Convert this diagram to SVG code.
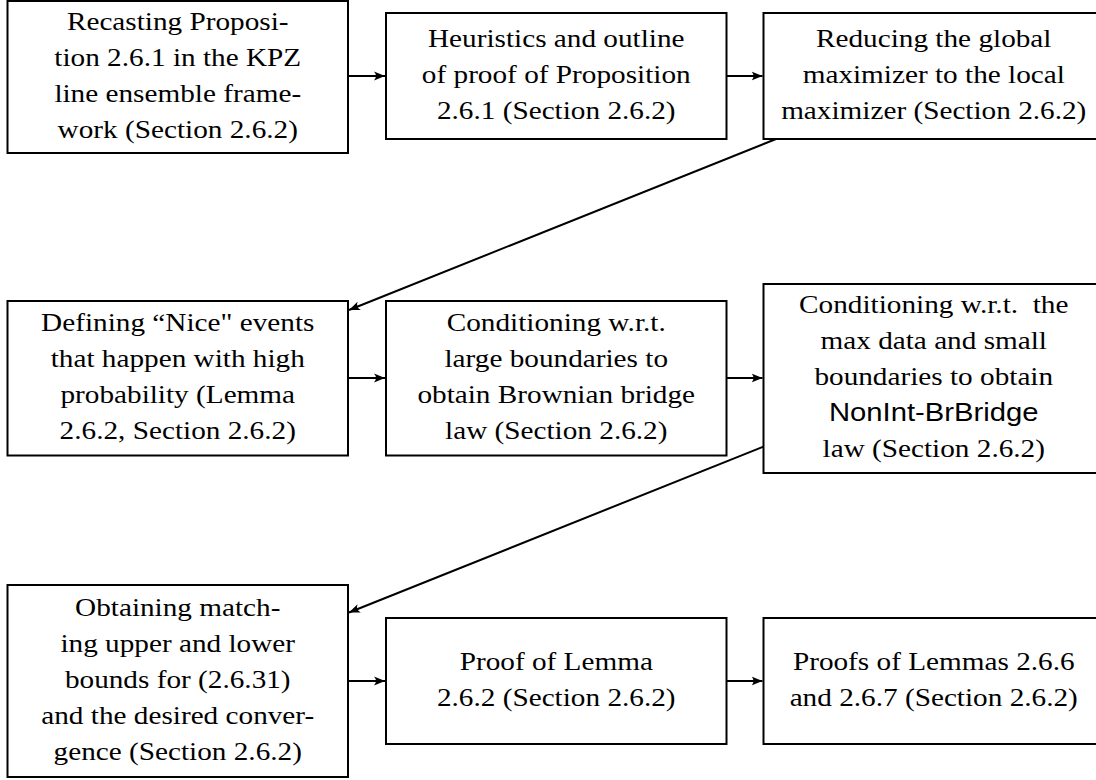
<svg xmlns="http://www.w3.org/2000/svg" width="1096" height="780" viewBox="0 0 1096 780">
<style>
.box{fill:#fff;stroke:#000;stroke-width:2}
.t{font-family:"Liberation Serif","Times New Roman",serif;font-size:26px;fill:#000;text-anchor:middle}
.s{font-family:"Liberation Sans",Arial,sans-serif}
.c{fill:none;stroke:#000;stroke-width:2}
</style>
<defs>
<marker id="ah" viewBox="-11 -6 12 12" refX="0" refY="0" markerWidth="12" markerHeight="12" markerUnits="userSpaceOnUse" orient="auto">
<path d="M0,0 L-11,-4.5 Q-7,0 -11,4.5 Z" fill="#000"/>
</marker>
</defs>
<rect width="1096" height="780" fill="#fff"/>
<g id="connectors">
<line class="c" x1="348" y1="76" x2="385" y2="76" marker-end="url(#ah)"/>
<line class="c" x1="726.5" y1="76" x2="762.5" y2="76" marker-end="url(#ah)"/>
<line class="c" x1="776" y1="139" x2="349" y2="310" marker-end="url(#ah)"/>
<line class="c" x1="348" y1="378" x2="385" y2="378" marker-end="url(#ah)"/>
<line class="c" x1="726.5" y1="378" x2="762.5" y2="378" marker-end="url(#ah)"/>
<line class="c" x1="763.5" y1="446.6" x2="349" y2="612.5" marker-end="url(#ah)"/>
<line class="c" x1="348" y1="681" x2="385" y2="681" marker-end="url(#ah)"/>
<line class="c" x1="726.5" y1="681" x2="762.5" y2="681" marker-end="url(#ah)"/>
</g>
<g id="n1">
<rect class="box" x="7.5" y="1" width="340.5" height="152"/>
<text class="t" transform="translate(177.75 0) scale(1.125 1)"><tspan x="0" y="30">Recasting Proposi-</tspan><tspan x="0" y="66">tion 2.6.1 in the KPZ</tspan><tspan x="0" y="102">line ensemble frame-</tspan><tspan x="0" y="138">work (Section 2.6.2)</tspan></text>
</g>
<g id="n2">
<rect class="box" x="386" y="13" width="340.5" height="126"/>
<text class="t" transform="translate(556.25 0) scale(1.125 1)"><tspan x="0" y="47">Heuristics and outline</tspan><tspan x="0" y="83">of proof of Proposition</tspan><tspan x="0" y="119">2.6.1 (Section 2.6.2)</tspan></text>
</g>
<g id="n3">
<rect class="box" x="763.5" y="13" width="340.5" height="126"/>
<text class="t" transform="translate(933.75 0) scale(1.125 1)"><tspan x="0" y="47">Reducing the global</tspan><tspan x="0" y="83">maximizer to the local</tspan><tspan x="0" y="119">maximizer (Section 2.6.2)</tspan></text>
</g>
<g id="n4">
<rect class="box" x="7.5" y="301" width="340.5" height="154.5"/>
<text class="t" transform="translate(177.75 0) scale(1.125 1)"><tspan x="0" y="331.5">Defining “Nice" events</tspan><tspan x="0" y="367.5">that happen with high</tspan><tspan x="0" y="403.5">probability (Lemma</tspan><tspan x="0" y="439.5">2.6.2, Section 2.6.2)</tspan></text>
</g>
<g id="n5">
<rect class="box" x="386" y="301" width="340.5" height="154.5"/>
<text class="t" transform="translate(556.25 0) scale(1.125 1)"><tspan x="0" y="331.5">Conditioning w.r.t.</tspan><tspan x="0" y="367.5">large boundaries to</tspan><tspan x="0" y="403.5">obtain Brownian bridge</tspan><tspan x="0" y="439.5">law (Section 2.6.2)</tspan></text>
</g>
<g id="n6">
<rect class="box" x="763.5" y="284" width="340.5" height="189"/>
<text class="t" transform="translate(933.75 0) scale(1.125 1)"><tspan x="0" y="313.5">Conditioning w.r.t.&#160; the</tspan><tspan x="0" y="349.5">max data and small</tspan><tspan x="0" y="385.5">boundaries to obtain</tspan><tspan x="0" y="421" class="s">NonInt-BrBridge</tspan><tspan x="0" y="457">law (Section 2.6.2)</tspan></text>
</g>
<g id="n7">
<rect class="box" x="7.5" y="585" width="340.5" height="192"/>
<text class="t" transform="translate(177.75 0) scale(1.125 1)"><tspan x="0" y="616">Obtaining match-</tspan><tspan x="0" y="652">ing upper and lower</tspan><tspan x="0" y="688">bounds for (2.6.31)</tspan><tspan x="0" y="724">and the desired conver-</tspan><tspan x="0" y="760">gence (Section 2.6.2)</tspan></text>
</g>
<g id="n8">
<rect class="box" x="386" y="618" width="340.5" height="126"/>
<text class="t" transform="translate(556.25 0) scale(1.125 1)"><tspan x="0" y="670">Proof of Lemma</tspan><tspan x="0" y="706">2.6.2 (Section 2.6.2)</tspan></text>
</g>
<g id="n9">
<rect class="box" x="763.5" y="618" width="340.5" height="126"/>
<text class="t" transform="translate(933.75 0) scale(1.125 1)"><tspan x="0" y="670">Proofs of Lemmas 2.6.6</tspan><tspan x="0" y="706">and 2.6.7 (Section 2.6.2)</tspan></text>
</g>
</svg>
